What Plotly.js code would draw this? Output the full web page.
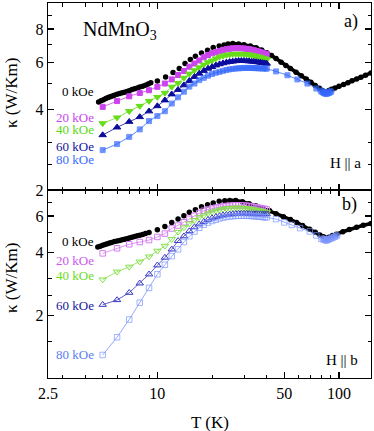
<!DOCTYPE html>
<html>
<head>
<meta charset="utf-8">
<script src="https://cdn.plot.ly/plotly-3.0.1.min.js"></script>
<style>
  html, body { margin: 0; padding: 0; background: #fff; }
  #chart { width: 374px; height: 431px; }
</style>
</head>
<body>
<div id="chart"></div>
<script>
// ---- values (T in K, kappa in W/Km) -----------------------------------------
const Tfield = [5, 6, 7, 8, 9, 10, 11, 12, 13, 14, 15, 16, 17, 18, 19, 20, 21, 22,
  23, 24, 25, 26, 27, 28, 29, 30, 31, 32, 33, 34, 35, 36, 37, 38, 39, 40];

// (a) H || a
const T0a = [4.75, 4.9, 5.05, 5.2, 5.35, 5.5, 5.65, 5.8, 6.0, 6.2, 6.4, 6.6, 6.8, 7.0,
  7.25, 7.5, 7.75, 8.0, 8.3, 8.6, 8.9, 9.2,
  10.0, 11.1, 12.2, 13.2, 14.2, 15.2, 16.2, 17.5, 18.9, 20.3, 21.9, 23.3,
  24.5, 26, 28, 30, 32.5, 35, 37.5, 40, 42.5, 45, 48, 51, 54, 58, 62, 66, 70, 74,
  78, 81, 84, 86, 88, 91, 95, 100, 106, 112, 118, 125, 132, 140, 150];
const K0a = [4.27, 4.31, 4.35, 4.40, 4.43, 4.46, 4.49, 4.52, 4.56, 4.59, 4.62, 4.64, 4.67, 4.70,
  4.75, 4.78, 4.81, 4.85, 4.89, 4.93, 4.98, 5.03,
  5.11, 5.29, 5.50, 5.69, 5.94, 6.15, 6.32, 6.51, 6.66, 6.82, 6.91, 6.97,
  7.02, 7.05, 7.03, 6.98, 6.90, 6.80, 6.68, 6.52, 6.36, 6.20, 6.01, 5.84, 5.69, 5.51, 5.35, 5.20, 5.06, 4.92,
  4.80, 4.71, 4.63, 4.66, 4.71, 4.76, 4.81, 4.88, 4.96, 5.03, 5.12, 5.20, 5.28, 5.37, 5.48];
const K20a = [4.09, 4.30, 4.48, 4.61, 4.72, 4.86, 5.00, 5.18, 5.38, 5.57, 5.78, 5.94, 6.10, 6.27,
  6.39, 6.49, 6.56, 6.62, 6.68, 6.72, 6.75, 6.77, 6.78, 6.78, 6.77, 6.76, 6.74, 6.72, 6.69, 6.66,
  6.62, 6.59, 6.55, 6.51, 6.47, 6.43];
const K40a = [3.55, 3.73, 3.94, 4.12, 4.30, 4.45, 4.61, 4.86, 5.02, 5.25, 5.44, 5.60, 5.74, 5.88,
  6.00, 6.09, 6.20, 6.29, 6.35, 6.39, 6.42, 6.44, 6.45, 6.45, 6.45, 6.44, 6.43, 6.41, 6.39, 6.36,
  6.33, 6.30, 6.26, 6.23, 6.19, 6.15];
const K60a = [3.21, 3.43, 3.60, 3.75, 3.94, 4.12, 4.33, 4.56, 4.74, 4.93, 5.12, 5.30, 5.45, 5.58,
  5.69, 5.77, 5.85, 5.91, 5.96, 6.00, 6.03, 6.05, 6.07, 6.08, 6.08, 6.08, 6.07, 6.06, 6.05, 6.04,
  6.02, 6.01, 5.99, 5.97, 5.96, 5.94];
const T80a = [...Tfield, 45, 52, 59, 67, 75, 80, 82, 84, 86, 88, 90];
const K80a = [2.82, 2.97, 3.16, 3.37, 3.62, 3.78, 3.94, 4.21, 4.44, 4.66, 4.87, 5.00, 5.15, 5.25,
  5.35, 5.43, 5.49, 5.53, 5.58, 5.62, 5.65, 5.67, 5.69, 5.70, 5.71, 5.72, 5.72, 5.72, 5.72, 5.71,
  5.71, 5.70, 5.70, 5.69, 5.69, 5.68,
  5.55, 5.37, 5.18, 5.00, 4.79, 4.68, 4.63, 4.60, 4.60, 4.63, 4.66];

// (b) H || b
const T0b = [4.7, 4.85, 5.0, 5.15, 5.3, 5.45, 5.6, 5.8, 6.0, 6.2, 6.4, 6.6, 6.8, 7.0,
  7.25, 7.5, 7.75, 8.0, 8.3, 8.6, 9.0,
  10, 11, 12, 13, 14, 15, 16.2, 17.5, 18.9, 20.3, 21.9, 23.5,
  25, 27, 29.4, 32, 34.8, 38, 41.5, 45, 49.4, 54, 58.4, 63, 68.9, 74, 78.4, 82, 85,
  88, 92, 96.7, 105, 114, 125, 136, 150];
const K0b = [4.26, 4.30, 4.34, 4.38, 4.42, 4.45, 4.48, 4.52, 4.55, 4.58, 4.61, 4.64, 4.67, 4.70,
  4.74, 4.78, 4.82, 4.85, 4.89, 4.94, 5.00,
  5.15, 5.35, 5.59, 5.80, 6.02, 6.25, 6.43, 6.65, 6.80, 6.93, 7.06, 7.11,
  7.13, 7.12, 7.02, 6.88, 6.72, 6.53, 6.36, 6.16, 5.95, 5.77, 5.59, 5.40, 5.19, 5.01, 4.87, 4.77, 4.69,
  4.75, 4.84, 4.91, 5.04, 5.17, 5.30, 5.42, 5.52];
const K20b = [3.97, 4.20, 4.39, 4.50, 4.60, 4.76, 4.94, 5.23, 5.40, 5.60, 5.82, 6.02, 6.20, 6.36,
  6.45, 6.52, 6.58, 6.63, 6.67, 6.70, 6.73, 6.75, 6.76, 6.76, 6.75, 6.74, 6.72, 6.70, 6.67, 6.64,
  6.61, 6.58, 6.55, 6.52, 6.49, 6.46];
const K40b = [2.97, 3.24, 3.42, 3.62, 3.83, 4.08, 4.31, 4.64, 5.03, 5.28, 5.52, 5.73, 5.91, 6.03,
  6.17, 6.28, 6.36, 6.42, 6.48, 6.52, 6.54, 6.56, 6.57, 6.57, 6.56, 6.55, 6.53, 6.51, 6.48, 6.45,
  6.42, 6.39, 6.36, 6.32, 6.28, 6.25];
const K60b = [2.25, 2.37, 2.57, 2.85, 3.15, 3.48, 3.79, 4.15, 4.56, 4.80, 5.08, 5.31, 5.48, 5.63,
  5.76, 5.86, 5.94, 6.00, 6.05, 6.08, 6.11, 6.13, 6.15, 6.16, 6.16, 6.16, 6.16, 6.15, 6.15, 6.14,
  6.14, 6.13, 6.13, 6.13, 6.13, 6.13];
const T80b = [...Tfield, 45, 50, 55, 61, 69, 75, 80, 82, 84, 86, 88, 91, 94, 97];
const K80b = [1.29, 1.57, 1.91, 2.30, 2.71, 3.15, 3.50, 3.85, 4.15, 4.50, 4.80, 5.05, 5.27, 5.45,
  5.58, 5.68, 5.76, 5.84, 5.90, 5.94, 5.97, 5.99, 6.01, 6.02, 6.02, 6.02, 6.02, 6.01, 6.00, 5.99,
  5.98, 5.96, 5.95, 5.93, 5.92, 5.91,
  5.80, 5.59, 5.44, 5.25, 5.06, 4.84, 4.66, 4.64, 4.60, 4.60, 4.64, 4.70, 4.76, 4.82];

const fieldLabels = ['0 kOe', '20 kOe', '40 kOe', '60 kOe', '80 kOe'];
const xTickVals = [2.5, 10, 50, 100];
const xTickText = ['2.5', '10', '50', '100'];
const xMinorVals = [3, 4, 5, 6, 7, 8, 9, 20, 30, 40, 60, 70, 80, 90];
const yTickValsA = [2, 4, 6, 8];
const yTickValsB = [2, 4, 6];
const yMinorA = [2.5, 3, 5, 7, 9, 10];
const yMinorB = [1.5, 2.5, 3, 5, 7];

// ---- style -----------------------------------------------------------------
const FONT = 'Liberation Serif, Times New Roman, serif';
const COLA = ['#000000', '#cc44ee', '#66dd1a', '#0c0c9c', '#3468ff'];
const COLB = ['#000000', '#d47cf0', '#84e04a', '#3636c4', '#7a94ff'];
const LBL_A = ['#000000', '#cc44ee', '#5cd814', '#12129a', '#3a6cff'];
const LBL_B = ['#000000', '#cc55ee', '#6cdc22', '#16169c', '#5a7ef0'];

// plot area in page pixels: x 48..371, y 3..378; panels meet at y = 190
const px = (x) => (x - 48) / 323;
const py = (y) => (378 - y) / 375;

// black zero-field points are dense enough to merge into a band at low and high T
function bandLine(T, K, lo, hi) {
  const x = [], y = [];
  T.forEach((t, i) => {
    if (t <= lo || t >= hi) { x.push(t); y.push(K[i]); }
    else if (x.length && x[x.length - 1] !== null) { x.push(null); y.push(null); }
  });
  return { x, y };
}

function zeroField(T, K, xa, ya, hiStart) {
  const band = bandLine(T, K, 9.3, hiStart);
  return [
    { x: band.x, y: band.y, xaxis: xa, yaxis: ya, mode: 'lines', connectgaps: false,
      line: { color: '#000', width: 3.6 }, hoverinfo: 'skip' },
    { x: T, y: K, xaxis: xa, yaxis: ya, mode: 'markers',
      marker: { symbol: 'circle', size: 5.5, color: '#000' } },
  ];
}

function series(T, K, xa, ya, color, symbol, size) {
  return { x: T, y: K, xaxis: xa, yaxis: ya, mode: 'lines+markers',
    line: { color, width: 0.8 },
    marker: { symbol, size, color, line: { color, width: 1 } } };
}

const traces = [
  ...zeroField(T0a, K0a, 'x2', 'y2', 24),
  series(Tfield, K20a, 'x2', 'y2', COLA[1], 'square', 5),
  series(Tfield, K40a, 'x2', 'y2', COLA[2], 'triangle-down', 6.5),
  series(Tfield, K60a, 'x2', 'y2', COLA[3], 'triangle-up', 6.5),
  series(T80a, K80a, 'x2', 'y2', COLA[4],
    T80a.map((t) => (t >= 80 ? 'circle' : 'square')), T80a.map((t) => (t >= 80 ? 7 : 5))),

  ...zeroField(T0b, K0b, 'x', 'y', 24),
  series(Tfield, K20b, 'x', 'y', COLB[1], 'square-open', 5.5),
  series(Tfield, K40b, 'x', 'y', COLB[2], 'triangle-down-open', 6.5),
  series(Tfield, K60b, 'x', 'y', COLB[3], 'triangle-up-open', 6.5),
  series(T80b, K80b, 'x', 'y', COLB[4],
    T80b.map((t) => (t >= 82 ? 'circle' : 'square-open')), T80b.map((t) => (t >= 82 ? 7 : 5.5))),
];

const axisBase = {
  type: 'log', showline: true, linecolor: '#000', linewidth: 1.3, mirror: 'allticks',
  ticks: 'inside', ticklen: 6, tickwidth: 1.2, tickcolor: '#000',
  showgrid: false, zeroline: false, tickmode: 'array',
  tickfont: { family: FONT, size: 16, color: '#000' },
};
const minor = (vals) => ({ tickmode: 'array', tickvals: vals, ticks: 'inside', ticklen: 3.5,
  tickwidth: 1, tickcolor: '#000', showgrid: false });
const xRange = [Math.log10(2.5), Math.log10(150)];

// text placed in page pixels: [text, x, y, colour, size, xanchor]
const notes = [
  ['NdMnO<sub>3</sub>', 82, 31, '#000', 20, 'left'],
  ['a)', 351, 21, '#000', 18, 'center'],
  ['H || a', 345, 163, '#000', 15, 'center'],
  ['b)', 349, 205, '#000', 18, 'center'],
  ['H || b', 342, 360, '#000', 15, 'center'],
];
const labelYA = [92, 117, 129, 146.5, 159.5];
const labelYB = [241, 260, 275, 305, 354];
fieldLabels.forEach((t, i) => {
  notes.push([t, 95, labelYA[i], LBL_A[i], 13, 'right']);
  notes.push([t, 95, labelYB[i], LBL_B[i], 13, 'right']);
});

const annotations = notes.map(([text, x, y, color, size, xanchor]) => ({
  text, xref: 'paper', yref: 'paper', x: px(x), y: py(y), xanchor, yanchor: 'middle',
  showarrow: false, borderpad: 0, font: { family: FONT, size, color },
}));
[93, 278].forEach((y) => annotations.push({
  text: 'κ (W/Km)', xref: 'paper', yref: 'paper', x: px(11), y: py(y), textangle: -90,
  xanchor: 'center', yanchor: 'middle', showarrow: false, font: { family: FONT, size: 17, color: '#000' },
}));
annotations.push({
  text: 'T (K)', xref: 'paper', yref: 'paper', x: px(210), y: py(422), xanchor: 'center',
  yanchor: 'middle', showarrow: false, font: { family: FONT, size: 17, color: '#000' },
});

const layout = {
  width: 374, height: 431,
  margin: { l: 48, r: 3, t: 3, b: 53 },
  paper_bgcolor: '#fff', plot_bgcolor: '#fff',
  showlegend: false,
  font: { family: FONT, size: 16, color: '#000' },
  xaxis: { ...axisBase, anchor: 'y', range: xRange, tickvals: xTickVals, ticktext: xTickText,
    minor: minor(xMinorVals) },
  xaxis2: { ...axisBase, anchor: 'y2', matches: 'x', range: xRange, tickvals: xTickVals,
    showticklabels: false, minor: minor(xMinorVals) },
  yaxis: { ...axisBase, domain: [0, 0.5013], range: [0, Math.log10(8)],
    tickvals: yTickValsB, ticktext: yTickValsB.map(String), minor: minor(yMinorB) },
  yaxis2: { ...axisBase, domain: [0.5013, 1], range: [Math.log10(2), 1],
    tickvals: yTickValsA, ticktext: yTickValsA.map(String), minor: minor(yMinorA) },
  annotations,
};

Plotly.newPlot('chart', traces, layout, { staticPlot: true, displayModeBar: false });
</script>
</body>
</html>
